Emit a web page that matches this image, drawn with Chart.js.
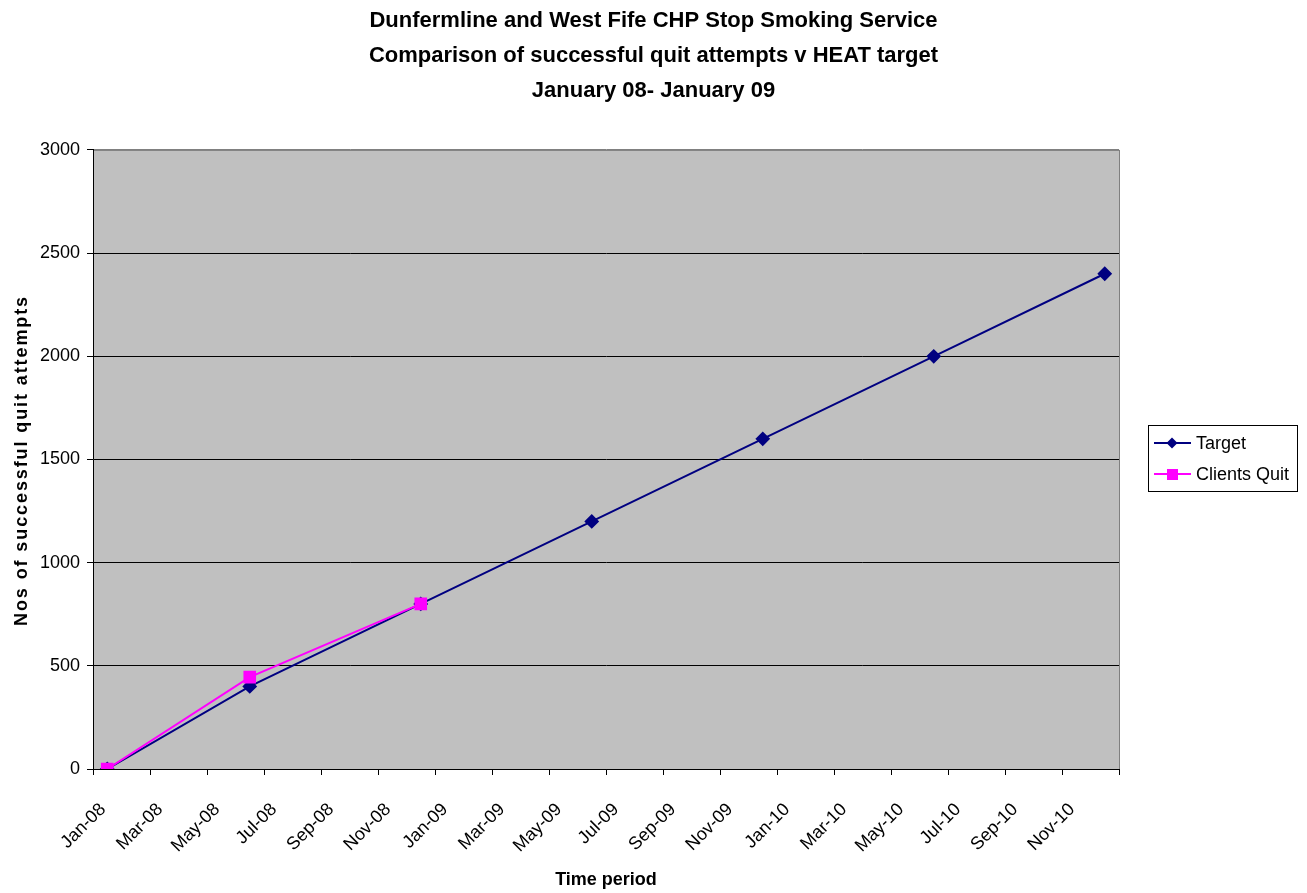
<!DOCTYPE html>
<html>
<head>
<meta charset="utf-8">
<script src="https://cdn.jsdelivr.net/npm/chart.js@4/dist/chart.umd.min.js"></script>
<style>
  html, body { margin: 0; padding: 0; background: #fff; }
  #wrap { width: 1307px; height: 893px; }
</style>
</head>
<body>
<div id="wrap"><canvas id="quitChart" width="1307" height="893"></canvas></div>
<script>
// --- data ---
const titleLines = [
  "Dunfermline and West Fife CHP Stop Smoking Service",
  "Comparison of successful quit attempts v HEAT target",
  "January 08- January 09"
];
const yAxisTitle = "Nos of successful quit attempts";
const xAxisTitle = "Time period";
const xTickLabels = ["Jan-08", "Mar-08", "May-08", "Jul-08", "Sep-08", "Nov-08",
  "Jan-09", "Mar-09", "May-09", "Jul-09", "Sep-09", "Nov-09",
  "Jan-10", "Mar-10", "May-10", "Jul-10", "Sep-10", "Nov-10"];
const targetMonths = ["Jan-08", "Jun-08", "Dec-08", "Jun-09", "Dec-09", "Jun-10", "Dec-10"];
const targetValues = [0, 400, 800, 1200, 1600, 2000, 2400];
const quitMonths = ["Jan-08", "Jun-08", "Dec-08"];
const quitValues = [0, 445, 800];

const monthAbbr = ["Jan", "Feb", "Mar", "Apr", "May", "Jun", "Jul", "Aug", "Sep", "Oct", "Nov", "Dec"];

// months since Jan-08, plotted in the middle of the month (Excel date axis)
function monthPos(m) {
  return monthAbbr.indexOf(m.slice(0, 3)) + 12 * (parseInt(m.slice(4), 10) - 8) + 0.5;
}
const toPoints = (months, vals) => months.map((m, i) => ({ x: monthPos(m), y: vals[i] }));

const FONT = "'Liberation Sans', Arial, sans-serif";

// grey plot area with border
const plotBg = {
  id: "plotBg",
  beforeDraw(chart) {
    const { ctx, chartArea: a } = chart;
    ctx.save();
    ctx.fillStyle = "#c0c0c0";
    ctx.fillRect(a.left, a.top, a.right - a.left, a.bottom - a.top);
    ctx.strokeStyle = "#808080";
    ctx.lineWidth = 1;
    ctx.strokeRect(a.left + 0.5, a.top + 0.5, a.right - a.left, a.bottom - a.top);
    ctx.restore();
  }
};

// spaced-out y axis title (canvas letterSpacing)
const yTitle = {
  id: "yTitle",
  afterDraw(chart) {
    const { ctx, chartArea: a } = chart;
    ctx.save();
    ctx.translate(22, (a.top + a.bottom) / 2 + 1);
    ctx.rotate(-Math.PI / 2);
    ctx.font = "bold 18px " + FONT;
    ctx.letterSpacing = "1.9px";
    ctx.fillStyle = "#000";
    ctx.textAlign = "center";
    ctx.textBaseline = "middle";
    ctx.fillText(yAxisTitle, 0, 0);
    ctx.restore();
  }
};

// boxed legend to the right of the plot
const boxLegend = {
  id: "boxLegend",
  afterDraw(chart) {
    const { ctx, chartArea: a } = chart;
    const sets = chart.data.datasets;
    const left = a.right + 29, w = 149, rowH = 31;
    const h = sets.length * rowH + 4;
    const top = Math.round((a.top + a.bottom) / 2 - h / 2 - 1);
    ctx.save();
    ctx.fillStyle = "#fff";
    ctx.fillRect(left, top, w, h);
    ctx.strokeStyle = "#000";
    ctx.lineWidth = 1;
    ctx.strokeRect(left + 0.5, top + 0.5, w, h);
    ctx.font = "18px " + FONT;
    ctx.textBaseline = "middle";
    sets.forEach((ds, i) => {
      const y = top + 18 + i * rowH;
      ctx.strokeStyle = ds.borderColor;
      ctx.lineWidth = 2;
      ctx.beginPath();
      ctx.moveTo(left + 6, y);
      ctx.lineTo(left + 43, y);
      ctx.stroke();
      ctx.fillStyle = ds.pointBackgroundColor;
      if (ds.pointStyle === "rectRot") {
        ctx.beginPath();
        ctx.moveTo(left + 24, y - 5.5);
        ctx.lineTo(left + 29.5, y);
        ctx.lineTo(left + 24, y + 5.5);
        ctx.lineTo(left + 18.5, y);
        ctx.closePath();
        ctx.fill();
      } else {
        ctx.fillRect(left + 19, y - 5, 11, 11);
      }
      ctx.fillStyle = "#000";
      ctx.fillText(ds.label, left + 48, y + 1);
    });
    ctx.restore();
  }
};

new Chart(document.getElementById("quitChart"), {
  type: "line",
  data: {
    datasets: [
      {
        label: "Target",
        data: toPoints(targetMonths, targetValues),
        borderColor: "#000080",
        backgroundColor: "#000080",
        pointBackgroundColor: "#000080",
        pointBorderColor: "#000080",
        pointStyle: "rectRot",
        pointRadius: 6,
        borderWidth: 2,
        tension: 0,
        order: 2
      },
      {
        label: "Clients Quit",
        data: toPoints(quitMonths, quitValues),
        borderColor: "#ff00ff",
        backgroundColor: "#ff00ff",
        pointBackgroundColor: "#ff00ff",
        pointBorderColor: "#ff00ff",
        pointStyle: "rect",
        pointRadius: 7.5,
        borderWidth: 2,
        tension: 0,
        order: 1
      }
    ]
  },
  options: {
    responsive: false,
    animation: false,
    layout: { padding: 0 },
    plugins: {
      legend: { display: false },
      tooltip: { enabled: false },
      title: {
        display: true,
        text: titleLines,
        color: "#000",
        font: { family: FONT, size: 22, weight: "bold", lineHeight: 1.59 },
        padding: { top: 3, bottom: 42 }
      }
    },
    scales: {
      x: {
        type: "linear",
        min: 0,
        max: 36,
        afterFit: (s) => { s.height = 124; },
        afterBuildTicks: (s) => { s.ticks = xTickLabels.map((_, i) => ({ value: i * 2 })).concat([{ value: 36 }]); },
        ticks: {
          color: "#000",
          font: { family: FONT, size: 18 },
          minRotation: 45,
          maxRotation: 45,
          padding: 24,
          labelOffset: 10,
          autoSkip: false,
          callback: (v) => xTickLabels[v / 2] || ""
        },
        grid: { drawOnChartArea: false, drawTicks: true, tickLength: 6, color: "#000" },
        border: { color: "#000", width: 1 },
        title: {
          display: true,
          text: xAxisTitle,
          color: "#000",
          font: { family: FONT, size: 18, weight: "bold" },
          padding: { top: 0, bottom: 2 }
        }
      },
      y: {
        min: 0,
        max: 3000,
        afterFit: (s) => { s.width = 93; },
        ticks: {
          stepSize: 500,
          color: "#000",
          font: { family: FONT, size: 18 },
          padding: 7,
          callback: (v) => String(v)
        },
        grid: {
          color: (c) => (c.tick && c.tick.value === 3000 ? "#808080" : "#000"),
          tickLength: 6,
          tickColor: "#000"
        },
        border: { color: "#000", width: 1 }
      },
      yRight: {
        position: "right",
        afterFit: (s) => { s.width = 188; },
        ticks: { display: false },
        grid: { display: false },
        border: { display: false }
      }
    }
  },
  plugins: [plotBg, yTitle, boxLegend]
});
</script>
</body>
</html>
